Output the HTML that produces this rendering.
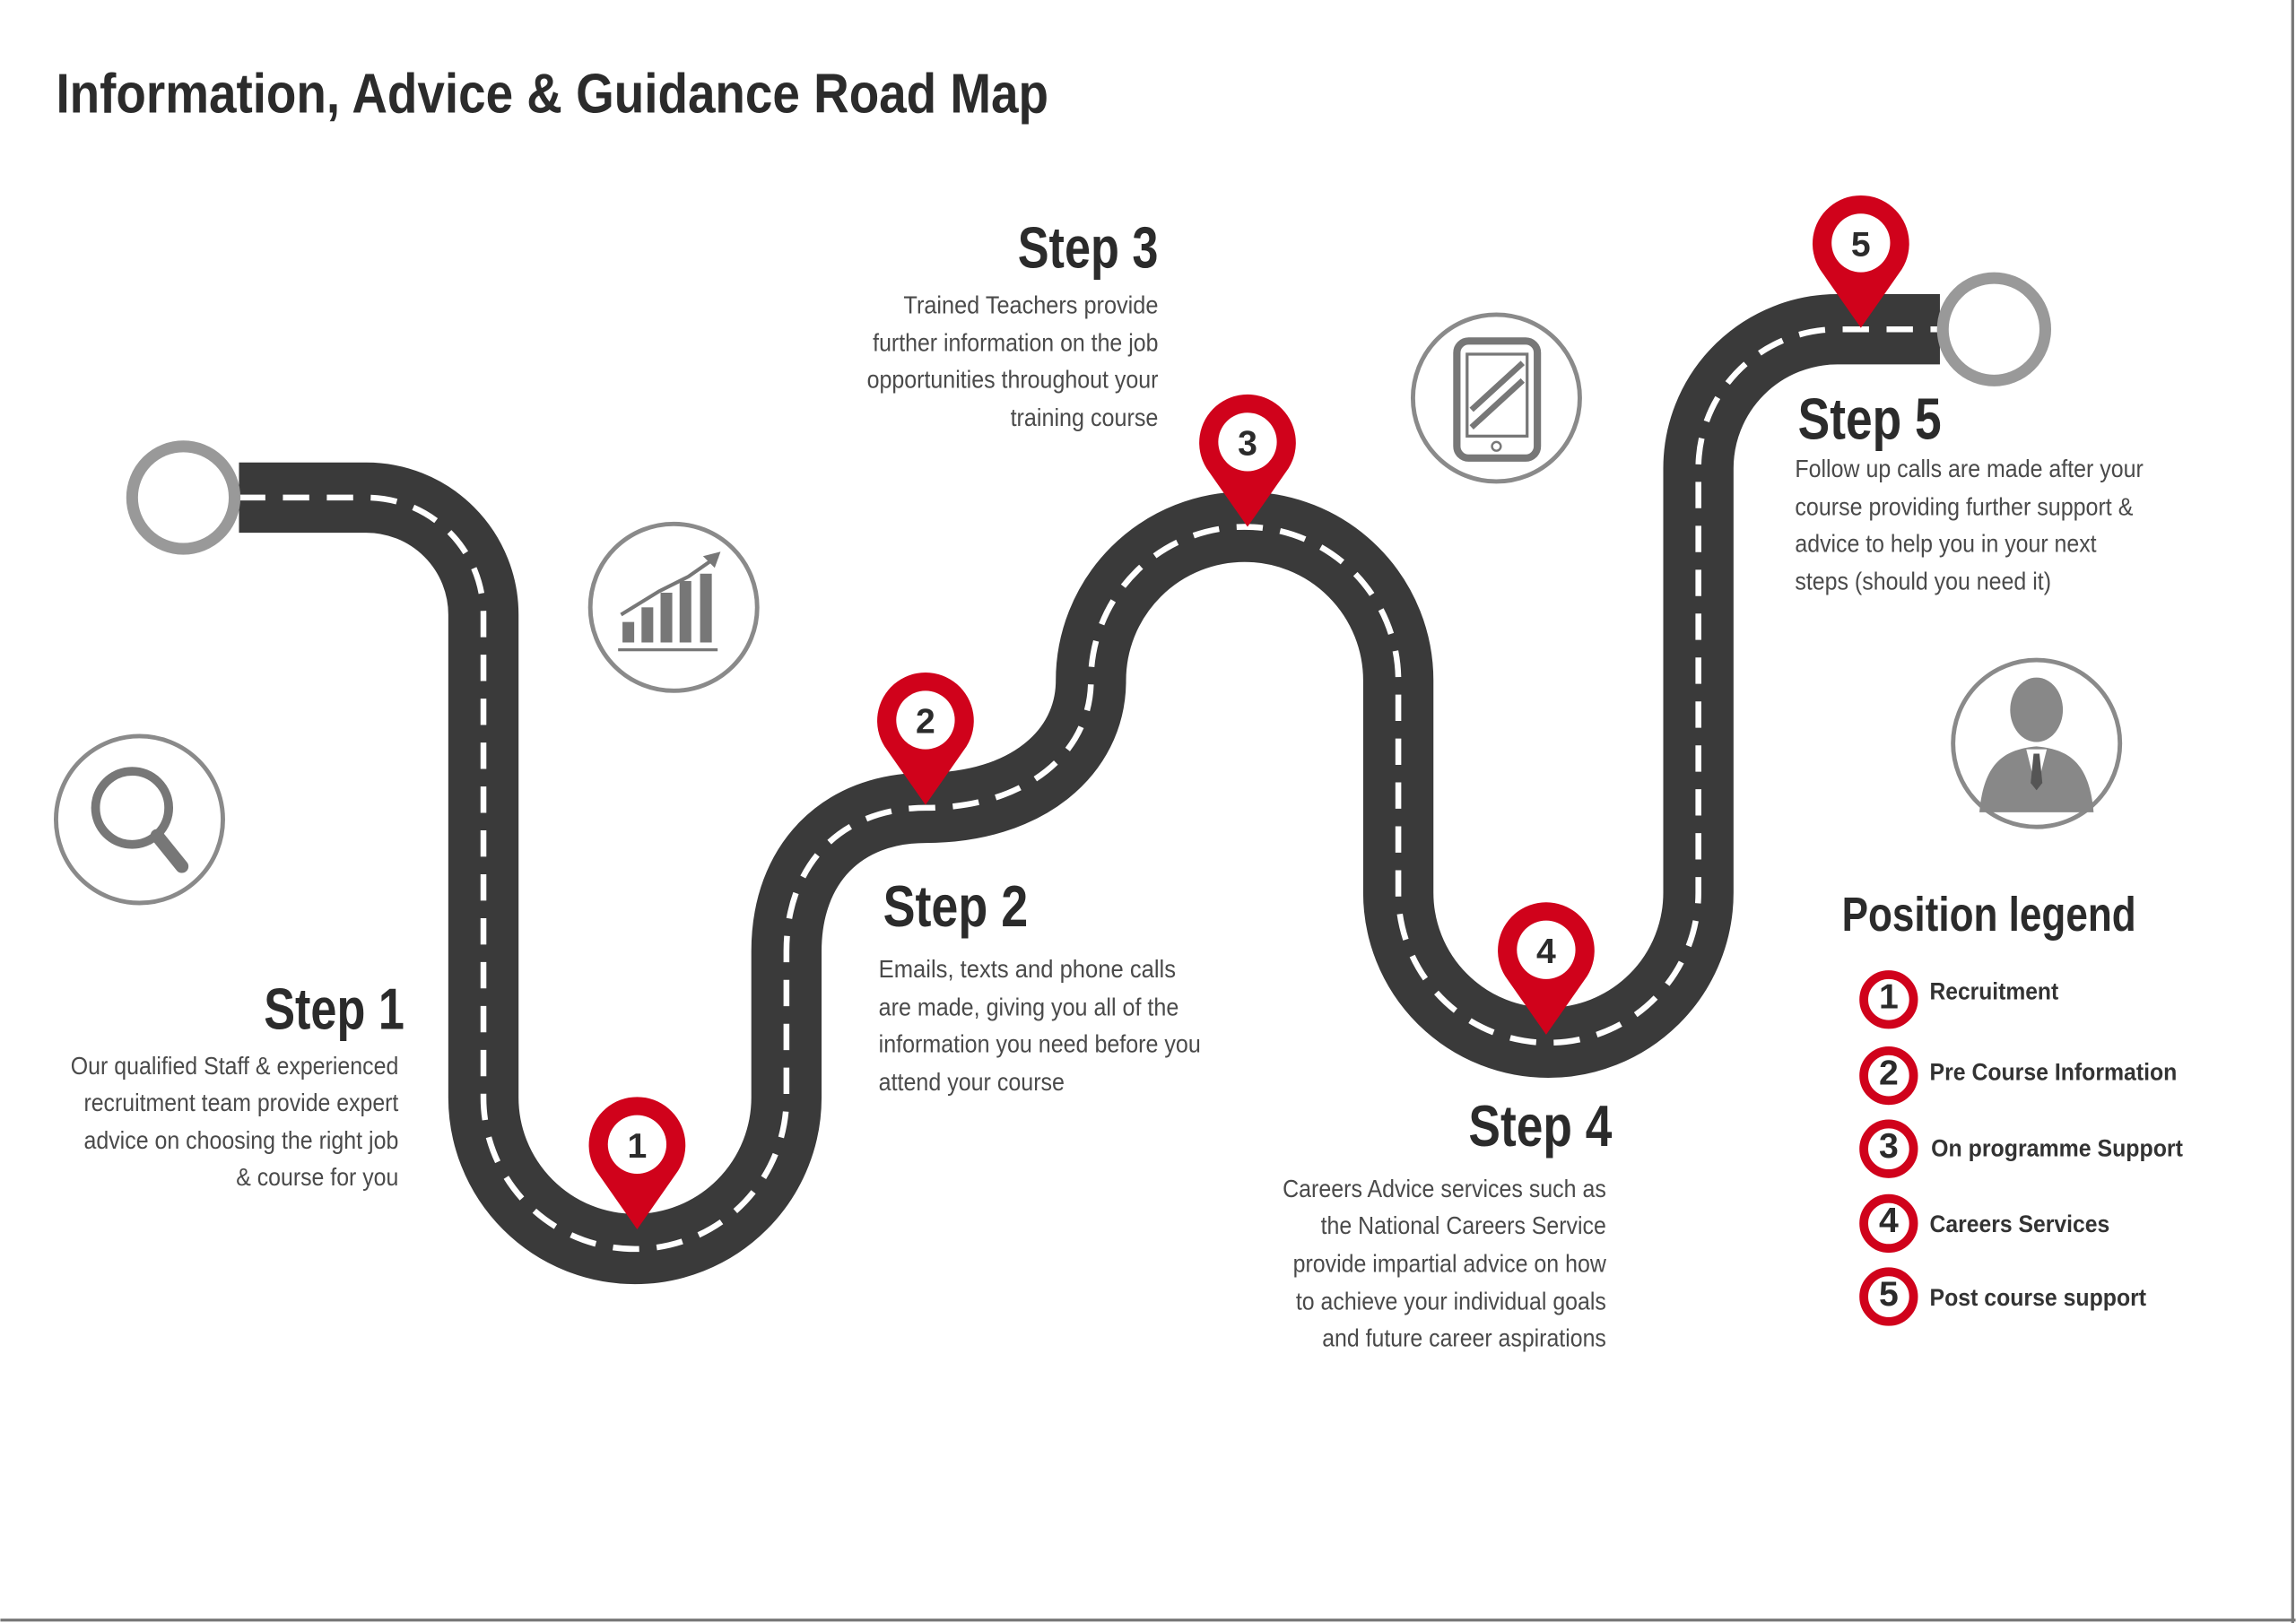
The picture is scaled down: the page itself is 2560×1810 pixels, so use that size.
<!DOCTYPE html>
<html><head><meta charset="utf-8"><style>
html,body{margin:0;padding:0;background:#fff;width:2560px;height:1810px;overflow:hidden}
svg{display:block}
.b{font-family:"Liberation Sans Narrow","Liberation Sans",sans-serif;font-weight:bold;fill:#2b2b2b}
.t{font-family:"Liberation Sans Narrow","Liberation Sans",sans-serif;font-size:17px;fill:#4a4a4a}
.l{font-family:"Liberation Sans",sans-serif;font-weight:bold;font-size:16.5px;fill:#333}
.n{font-family:"Liberation Sans",sans-serif;font-weight:bold;font-size:24px;fill:#2b2b2b;text-anchor:middle}
</style></head><body>
<svg width="2560" height="1810" viewBox="0 0 1568 1109" xmlns="http://www.w3.org/2000/svg">
<line x1="1566" y1="0" x2="1566" y2="1109" stroke="#777" stroke-width="2"/>
<line x1="0" y1="1107" x2="1568" y2="1107" stroke="#777" stroke-width="2"/>
<text class="b" x="38" y="77" font-size="38" textLength="678" lengthAdjust="spacingAndGlyphs">Information, Advice &amp; Guidance Road Map</text>

<path d="M163,340 H250 A80,80 0 0 1 330,420 V750 A103.5,103.5 0 0 0 537,750 V650 C537,590 575,552 632,552 C700,552 745,515 745,465 A105,105 0 0 1 955,465 V610 A102.5,102.5 0 0 0 1160,610 V320 A95,95 0 0 1 1255,225 H1325" fill="none" stroke="#3a3a3a" stroke-width="48"/>
<path d="M163,340 H250 A80,80 0 0 1 330,420 V750 A103.5,103.5 0 0 0 537,750 V650 C537,590 575,552 632,552 C700,552 745,515 745,465 A105,105 0 0 1 955,465 V610 A102.5,102.5 0 0 0 1160,610 V320 A95,95 0 0 1 1255,225 H1325" fill="none" stroke="#fff" stroke-width="4" stroke-dasharray="18,12"/>
<circle cx="125" cy="340" r="35" fill="#fff" stroke="#999" stroke-width="8"/>
<circle cx="1362" cy="225" r="35" fill="#fff" stroke="#999" stroke-width="8"/>

<g fill="none" stroke="#8a8a8a" stroke-width="3">
<circle cx="95" cy="560" r="57"/><circle cx="460" cy="415" r="57"/><circle cx="1022" cy="272" r="57"/><circle cx="1391" cy="508" r="57"/>
</g>
<g fill="none" stroke="#777" stroke-width="6"><circle cx="90" cy="552" r="25"/><line x1="107" y1="571" x2="124" y2="592" stroke-width="9" stroke-linecap="round"/></g>
<g fill="#777"><rect x="425" y="425" width="8" height="14"/><rect x="438" y="415" width="8" height="24"/><rect x="451" y="405" width="8" height="34"/><rect x="464" y="397" width="8" height="42"/><rect x="478" y="392" width="8" height="47"/><rect x="422" y="443" width="68" height="2"/></g>
<polyline points="424,420 450,404 470,394 490,380" fill="none" stroke="#777" stroke-width="2.5"/><polygon points="492,377 480,380 488,388" fill="#777"/>
<rect x="995" y="233" width="55" height="80" rx="8" fill="none" stroke="#777" stroke-width="5"/><rect x="1002" y="242" width="41" height="56" fill="none" stroke="#777" stroke-width="2"/><line x1="1005" y1="280" x2="1040" y2="248" stroke="#777" stroke-width="4"/><line x1="1005" y1="292" x2="1040" y2="260" stroke="#777" stroke-width="4"/><circle cx="1022" cy="305" r="3" fill="none" stroke="#777" stroke-width="1.5"/>
<ellipse cx="1391" cy="485" rx="18" ry="22" fill="#888"/><path d="M1352,555 C1355,520 1370,512 1391,510 C1412,512 1427,520 1430,555 Z" fill="#888"/><path d="M1384,512 L1391,540 L1398,512 Z" fill="#fff"/><path d="M1389,515 L1393,515 L1395,535 L1391,540 L1387,535 Z" fill="#555"/>

<g fill="#d0021b">
<path d="M435,840 L407,800 A33,33 0 1 1 463,800 Z"/>
<path d="M632,550 L604,510 A33,33 0 1 1 660,510 Z"/>
<path d="M852,360 L824,320 A33,33 0 1 1 880,320 Z"/>
<path d="M1056,707 L1028,667 A33,33 0 1 1 1084,667 Z"/>
<path d="M1271,224 L1243,184 A33,33 0 1 1 1299,184 Z"/>
</g>
<g fill="#fff"><circle cx="435" cy="782" r="20"/><circle cx="632" cy="492" r="20"/><circle cx="852" cy="302" r="20"/><circle cx="1056" cy="649" r="20"/><circle cx="1271" cy="166" r="20"/></g>
<text class="n" x="435" y="791">1</text><text class="n" x="632" y="501">2</text><text class="n" x="852" y="311">3</text><text class="n" x="1056" y="658">4</text><text class="n" x="1271" y="175">5</text>

<g class="b" font-size="40">
<text x="180" y="703" textLength="96" lengthAdjust="spacingAndGlyphs">Step 1</text>
<text x="603" y="633" textLength="99" lengthAdjust="spacingAndGlyphs">Step 2</text>
<text x="695" y="183" textLength="96" lengthAdjust="spacingAndGlyphs">Step 3</text>
<text x="1003" y="783" textLength="98" lengthAdjust="spacingAndGlyphs">Step 4</text>
<text x="1228" y="300" textLength="98" lengthAdjust="spacingAndGlyphs">Step 5</text>
<text x="1258" y="636" font-size="33" textLength="201" lengthAdjust="spacingAndGlyphs">Position legend</text>
</g>
<g class="t">
<text x="48" y="734" textLength="224" lengthAdjust="spacingAndGlyphs">Our qualified Staff &amp; experienced</text>
<text x="57" y="759" textLength="215" lengthAdjust="spacingAndGlyphs">recruitment team provide expert</text>
<text x="57" y="785" textLength="215" lengthAdjust="spacingAndGlyphs">advice on choosing the right job</text>
<text x="161" y="810" textLength="111" lengthAdjust="spacingAndGlyphs">&amp; course for you</text>
<text x="617" y="214" textLength="174" lengthAdjust="spacingAndGlyphs">Trained Teachers provide</text>
<text x="596" y="240" textLength="195" lengthAdjust="spacingAndGlyphs">further information on the job</text>
<text x="592" y="265" textLength="199" lengthAdjust="spacingAndGlyphs">opportunities throughout your</text>
<text x="690" y="291" textLength="101" lengthAdjust="spacingAndGlyphs">training course</text>
<text x="876" y="818" textLength="221" lengthAdjust="spacingAndGlyphs">Careers Advice services such as</text>
<text x="902" y="843" textLength="195" lengthAdjust="spacingAndGlyphs">the National Careers Service</text>
<text x="883" y="869" textLength="214" lengthAdjust="spacingAndGlyphs">provide impartial advice on how</text>
<text x="885" y="895" textLength="212" lengthAdjust="spacingAndGlyphs">to achieve your individual goals</text>
<text x="903" y="920" textLength="194" lengthAdjust="spacingAndGlyphs">and future career aspirations</text>
<text x="600" y="668" textLength="203" lengthAdjust="spacingAndGlyphs">Emails,  texts and phone calls</text>
<text x="600" y="694" textLength="205" lengthAdjust="spacingAndGlyphs">are made, giving you all of the</text>
<text x="600" y="719" textLength="220" lengthAdjust="spacingAndGlyphs">information you need before you</text>
<text x="600" y="745" textLength="127" lengthAdjust="spacingAndGlyphs">attend your course</text>
<text x="1226" y="326" textLength="238" lengthAdjust="spacingAndGlyphs">Follow up calls are made after your</text>
<text x="1226" y="352" textLength="231" lengthAdjust="spacingAndGlyphs">course providing further support &amp;</text>
<text x="1226" y="377" textLength="206" lengthAdjust="spacingAndGlyphs">advice to help you in your next</text>
<text x="1226" y="403" textLength="175" lengthAdjust="spacingAndGlyphs">steps (should you need it)</text>
</g>
<g fill="#fff" stroke="#d0021b" stroke-width="6">
<circle cx="1290" cy="683" r="17"/><circle cx="1290" cy="735" r="17"/><circle cx="1290" cy="785" r="17"/><circle cx="1290" cy="836" r="17"/><circle cx="1290" cy="886" r="17"/>
</g>
<g class="n" font-size="17"><text x="1290" y="689">1</text><text x="1290" y="741">2</text><text x="1290" y="791">3</text><text x="1290" y="842">4</text><text x="1290" y="892">5</text></g>
<g class="l">
<text x="1318" y="683" textLength="88" lengthAdjust="spacingAndGlyphs">Recruitment</text>
<text x="1318" y="738" textLength="169" lengthAdjust="spacingAndGlyphs">Pre Course Information</text>
<text x="1319" y="790" textLength="172" lengthAdjust="spacingAndGlyphs">On programme Support</text>
<text x="1318" y="842" textLength="123" lengthAdjust="spacingAndGlyphs">Careers Services</text>
<text x="1318" y="892" textLength="148" lengthAdjust="spacingAndGlyphs">Post course support</text>
</g>
</svg>
</body></html>
